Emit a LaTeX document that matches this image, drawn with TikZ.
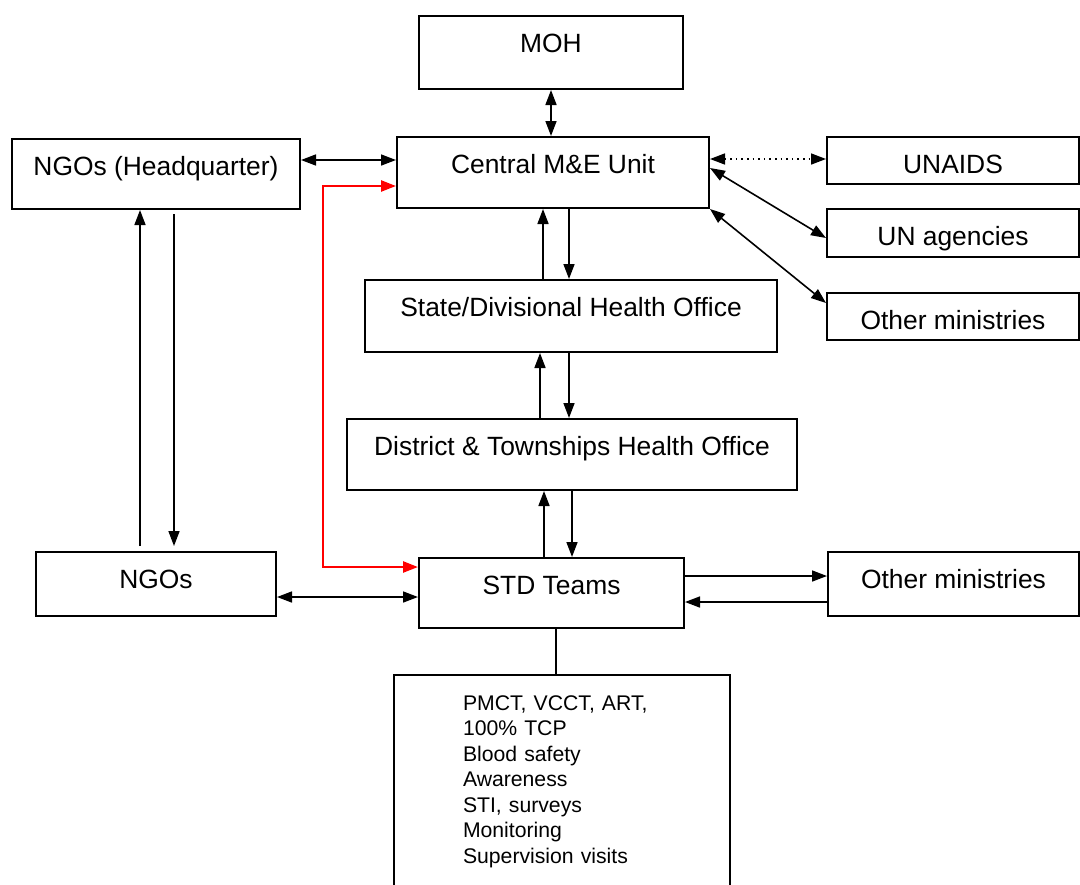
\documentclass[tikz,border=0pt]{standalone}
\usepackage{fontspec}
\setmainfont{Liberation Sans}
\usetikzlibrary{arrows.meta}
\tikzset{
  unit/.style={draw, line width=1pt, inner sep=0pt, anchor=north, text height=18pt,
    font=\fontsize{13.2}{15}\selectfont},
  link/.style={line width=0.8pt},
  redlink/.style={draw=red, line width=1.2pt, >={Triangle[length=7.5pt,width=5.5pt]}},
}
\begin{document}
\begin{tikzpicture}[x=0.5pt, y=-0.5pt, >={Triangle[length=7.5pt,width=5.5pt]}]
\useasboundingbox (0,0) rectangle (1080,884);
\node[unit, minimum width=132pt, text depth=18.5pt] (moh) at (551,15) {MOH};
\node[unit, minimum width=156pt, text depth=17.5pt] (cme) at (553,136) {Central M\&E Unit};
\node[unit, minimum width=144pt, text depth=17pt] (ngohq) at (156,138) {NGOs (Headquarter)};
\node[unit, minimum width=126pt, text depth=5.5pt] (unaids) at (953,136) {UNAIDS};
\node[unit, minimum width=126pt, text depth=6pt] (unag) at (953,208) {UN agencies};
\node[unit, minimum width=126pt, text depth=5.5pt] (othtop) at (953,292) {Other ministries};
\node[unit, minimum width=206pt, text depth=18pt] (state) at (571,279) {State/Divisional Health Office};
\node[unit, minimum width=225pt, text depth=17.5pt] (district) at (572,418) {District \& Townships Health Office};
\node[unit, minimum width=120pt, text depth=14pt] (ngos) at (156,551) {NGOs};
\node[unit, minimum width=132.5pt, text depth=17pt] (std) at (551.5,557) {STD Teams};
\node[unit, minimum width=125.5pt, text depth=14pt] (othbot) at (953.5,551) {Other ministries};
\node[draw, line width=1pt, anchor=north west, inner xsep=34.5pt, inner ysep=10.25pt,
  text width=99pt, align=left, font=\fontsize{10.6}{12.75}\selectfont] (tasks) at (393,674)
  {PMCT, VCCT, ART,\\ 100\% TCP\\ Blood safety\\ Awareness\\ STI, surveys\\ Monitoring\\ Supervision visits};

\draw[link, <->] (moh.south) -- (moh.south |- cme.north);
\draw[link, <->] (ngohq.east |- 0,160) -- (cme.west |- 0,160);
\draw[link, <->, dotted] (cme.east |- 0,159) -- (unaids.west |- 0,159);
\draw[link, <->] (cme.east |- 0,168) -- (unag.west |- 0,238);
\draw[link, <->] (cme.south east) -- (othtop.west |- 0,303);
\draw[link, ->] (state.north -| 543,0) -- (cme.south -| 543,0);
\draw[link, ->] (cme.south -| 569,0) -- (state.north -| 569,0);
\draw[link, ->] (district.north -| 540,0) -- (state.south -| 540,0);
\draw[link, ->] (state.south -| 569,0) -- (district.north -| 569,0);
\draw[link, ->] (std.north -| 544,0) -- (district.south -| 544,0);
\draw[link, ->] (district.south -| 572,0) -- (std.north -| 572,0);
\draw[link, ->, shorten <=2.5pt] (ngos.north -| 140,0) -- (ngohq.south -| 140,0);
\draw[link, ->, shorten <=2pt, shorten >=2.5pt] (ngohq.south -| 174,0) -- (ngos.north -| 174,0);
\draw[link, <->] (ngos.east |- 0,597) -- (std.west |- 0,597);
\draw[link, ->] (std.east |- 0,576) -- (othbot.west |- 0,576);
\draw[link, ->] (othbot.west |- 0,602) -- (std.east |- 0,602);
\draw[link] (std.south -| 556,0) -- (tasks.north -| 556,0);
\draw[redlink, <->] (std.west |- 0,567) -| (323,186) -- (cme.west |- 0,186);
\end{tikzpicture}
\end{document}
